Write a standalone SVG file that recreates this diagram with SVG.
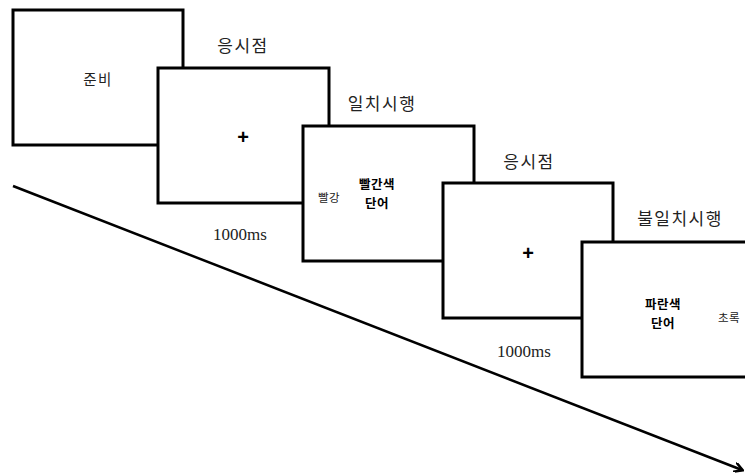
<svg xmlns="http://www.w3.org/2000/svg" width="745" height="473" viewBox="0 0 745 473">
<style>
.box{fill:#fff;stroke:#000;stroke-width:3}
.t{font-family:"Noto Sans CJK KR","Noto Sans",sans-serif;fill:#222;text-anchor:middle}
.lbl{font-size:17px;letter-spacing:1.5px}
.in{font-size:14.5px;letter-spacing:1.5px}
.sm{font-size:11.5px;letter-spacing:0.5px}
.b{font-size:12.5px;font-weight:bold;fill:#000;letter-spacing:0.5px}
.ms{font-family:"Liberation Serif",serif;font-size:17px;fill:#222;text-anchor:middle}
.plus{font-family:"Liberation Sans",sans-serif;font-size:20px;font-weight:bold;text-anchor:middle}
</style>
<defs>
<marker id="ah" markerWidth="10" markerHeight="10" refX="8" refY="5" orient="auto" markerUnits="userSpaceOnUse">
<path d="M0,0 L9,5 L0,10" fill="none" stroke="#000" stroke-width="2.5"/>
</marker>
</defs>
<g id="connectors">
<line x1="13" y1="186" x2="742" y2="470" stroke="#000" stroke-width="2.5" marker-end="url(#ah)"/>
</g>
<g id="box1">
<rect class="box" x="13" y="10" width="170" height="135"/>
<text class="t in" x="98" y="85">준비</text>
</g>
<g id="label-fix1"><text class="t lbl" x="243" y="52">응시점</text></g>
<g id="box2">
<rect class="box" x="158" y="68" width="171" height="135"/>
<text class="plus" x="243" y="144">+</text>
</g>
<g id="label-ms1"><text class="ms" x="240" y="240">1000ms</text></g>
<g id="label-congruent"><text class="t lbl" x="382" y="110">일치시행</text></g>
<g id="box3">
<rect class="box" x="303" y="126" width="171" height="135"/>
<text class="t sm" x="329" y="202">빨강</text>
<text class="t b" x="377" y="189">빨간색</text>
<text class="t b" x="377" y="208">단어</text>
</g>
<g id="label-fix2"><text class="t lbl" x="529" y="168">응시점</text></g>
<g id="box4">
<rect class="box" x="443" y="183" width="170" height="135"/>
<text class="plus" x="528" y="260">+</text>
</g>
<g id="label-ms2"><text class="ms" x="524" y="357">1000ms</text></g>
<g id="label-incongruent"><text class="t lbl" x="680" y="225">불일치시행</text></g>
<g id="box5">
<rect class="box" x="582" y="242" width="175" height="135"/>
<text class="t b" x="663" y="309">파란색</text>
<text class="t b" x="663" y="328">단어</text>
<text class="t sm" x="729" y="322">초록</text>
</g>
</svg>
